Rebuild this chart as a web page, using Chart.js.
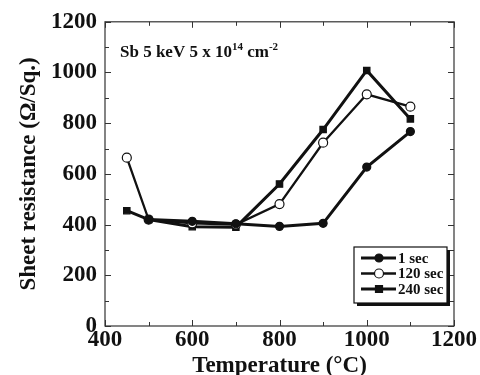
<!DOCTYPE html>
<html>
<head>
<meta charset="utf-8">
<script src="https://cdn.jsdelivr.net/npm/chart.js@4/dist/chart.umd.min.js"></script>
<style>
  html, body { margin: 0; padding: 0; background: #fff; }
  #wrap { width: 480px; height: 375px; }
</style>
</head>
<body>
<div id="wrap"><canvas id="chart" width="480" height="375"></canvas></div>
<script>
"use strict";

const temps = [450, 500, 600, 700, 800, 900, 1000, 1100];
const oneSec = [null, 420, 413, 403, 393, 405, 627, 767];
const sec120 = [664, 420, 405, 400, 481, 723, 914, 865];
const sec240 = [455, 420, 392, 390, 560, 775, 1008, 817];
const seriesNames = ["1 sec", "120 sec", "240 sec"];
const xTicks = [400, 600, 800, 1000, 1200];
const yTicks = [0, 200, 400, 600, 800, 1000, 1200];

const serif = "'Liberation Serif', 'Times New Roman', serif";
const ink = "#111";

function points(values) {
    return temps.map((t, i) => ({ x: t, y: values[i] }));
}

// inward ticks on all four sides, plus top/right frame
const frameTicks = {
    id: "frameTicks",
    afterDraw(chart) {
        const ctx = chart.ctx;
        const a = chart.chartArea;
        const xs = chart.scales.x;
        const ys = chart.scales.y;
        ctx.save();
        ctx.strokeStyle = "#333";
        ctx.lineWidth = 1.2;
        ctx.strokeRect(a.left, a.top, a.right - a.left, a.bottom - a.top);
        ctx.lineWidth = 1;
        for (let v = 400; v <= 1200; v += 100) {
            const px = Math.round(xs.getPixelForValue(v)) + 0.5;
            const len = v % 200 == 0 ? 6 : 4;
            ctx.beginPath();
            ctx.moveTo(px, a.bottom); ctx.lineTo(px, a.bottom - len);
            ctx.moveTo(px, a.top); ctx.lineTo(px, a.top + len);
            ctx.stroke();
        }
        for (let v = 0; v <= 1200; v += 100) {
            const py = Math.round(ys.getPixelForValue(v)) + 0.5;
            const len = v % 200 == 0 ? 6 : 4;
            ctx.beginPath();
            ctx.moveTo(a.left, py); ctx.lineTo(a.left + len, py);
            ctx.moveTo(a.right, py); ctx.lineTo(a.right - len, py);
            ctx.stroke();
        }
        ctx.restore();
    }
};

// annotation text with superscripts
const note = {
    id: "note",
    afterDraw(chart) {
        const ctx = chart.ctx;
        const a = chart.chartArea;
        let x = a.left + 15;
        const y = a.top + 35;
        const parts = [
            ["Sb 5 keV 5 x 10", 17, 0],
            ["14", 11, -7],
            [" cm", 17, 0],
            ["-2", 11, -7]
        ];
        ctx.save();
        ctx.fillStyle = ink;
        ctx.textBaseline = "alphabetic";
        for (const [txt, size, dy] of parts) {
            ctx.font = "bold " + size + "px " + serif;
            ctx.fillText(txt, x, y + dy);
            x += ctx.measureText(txt).width;
        }
        ctx.restore();
    }
};

// boxed legend with drop shadow inside the plot
const boxLegend = {
    id: "boxLegend",
    afterDraw(chart) {
        const ctx = chart.ctx;
        const a = chart.chartArea;
        const w = 93, h = 56;
        const bx = a.right - w - 7;
        const by = a.bottom - h - 23;
        ctx.save();
        ctx.fillStyle = ink;
        ctx.fillRect(bx + 3, by + 3, w, h);
        ctx.fillStyle = "#fff";
        ctx.fillRect(bx, by, w, h);
        ctx.strokeStyle = ink;
        ctx.lineWidth = 1.2;
        ctx.strokeRect(bx, by, w, h);
        chart.data.datasets.forEach((ds, i) => {
            const cy = by + 11 + i * 15.5;
            ctx.strokeStyle = ink;
            ctx.lineWidth = ds.borderWidth;
            ctx.beginPath();
            ctx.moveTo(bx + 7, cy);
            ctx.lineTo(bx + 42, cy);
            ctx.stroke();
            const mx = bx + 25;
            ctx.fillStyle = ds.pointBackgroundColor;
            ctx.lineWidth = 1.2;
            ctx.beginPath();
            if (ds.pointStyle == "rect") {
                ctx.rect(mx - 3.5, cy - 3.5, 7, 7);
            } else {
                ctx.arc(mx, cy, ds.pointRadius, 0, Math.PI * 2);
            }
            ctx.fill();
            ctx.stroke();
            ctx.fillStyle = ink;
            ctx.font = "bold 15px " + serif;
            ctx.textBaseline = "middle";
            ctx.fillText(ds.label, bx + 44, cy + 1);
        });
        ctx.restore();
    }
};

const common = {
    borderColor: ink,
    pointBorderColor: ink,
    pointBorderWidth: 1.2,
    fill: false,
    tension: 0,
    spanGaps: false
};

const tickFont = { family: serif, size: 23, weight: "bold" };

new Chart(document.getElementById("chart"), {
    type: "line",
    data: {
        datasets: [
            Object.assign({}, common, {
                label: seriesNames[0],
                data: points(oneSec),
                borderWidth: 3,
                pointStyle: "circle",
                pointRadius: 4,
                pointBackgroundColor: ink
            }),
            Object.assign({}, common, {
                label: seriesNames[1],
                data: points(sec120),
                borderWidth: 2.3,
                pointStyle: "circle",
                pointRadius: 4.5,
                pointBackgroundColor: "#fff"
            }),
            Object.assign({}, common, {
                label: seriesNames[2],
                data: points(sec240),
                borderWidth: 3,
                pointStyle: "rect",
                pointRadius: 4.5,
                pointBackgroundColor: ink
            })
        ]
    },
    options: {
        responsive: false,
        animation: false,
        layout: { padding: { top: 19, right: 26, left: 15, bottom: 0 } },
        plugins: {
            legend: { display: false },
            tooltip: { enabled: false }
        },
        scales: {
            x: {
                type: "linear",
                min: 400,
                max: 1200,
                afterBuildTicks(scale) {
                    scale.ticks = xTicks.map((v) => ({ value: v }));
                },
                afterFit(scale) { scale.height = 49; },
                grid: { display: false, drawTicks: false },
                border: { display: false },
                ticks: {
                    color: ink,
                    padding: 0,
                    maxRotation: 0,
                    font: tickFont,
                    callback: (v) => String(v)
                },
                title: {
                    display: true,
                    text: "Temperature (\u00B0C)",
                    color: ink,
                    padding: { top: 0, bottom: -5 },
                    font: { family: serif, size: 23, weight: "bold" }
                }
            },
            y: {
                min: 0,
                max: 1200,
                afterBuildTicks(scale) {
                    scale.ticks = yTicks.map((v) => ({ value: v }));
                },
                afterFit(scale) { scale.width = 90; },
                grid: { display: false, drawTicks: false },
                border: { display: false },
                ticks: {
                    color: ink,
                    padding: 8,
                    font: tickFont,
                    callback: (v) => String(v)
                },
                title: {
                    display: true,
                    text: "Sheet resistance (\u03A9/Sq.)",
                    color: ink,
                    padding: { top: 0, bottom: 0 },
                    font: { family: serif, size: 23, weight: "bold" }
                }
            }
        }
    },
    plugins: [frameTicks, note, boxLegend]
});
</script>
</body>
</html>
